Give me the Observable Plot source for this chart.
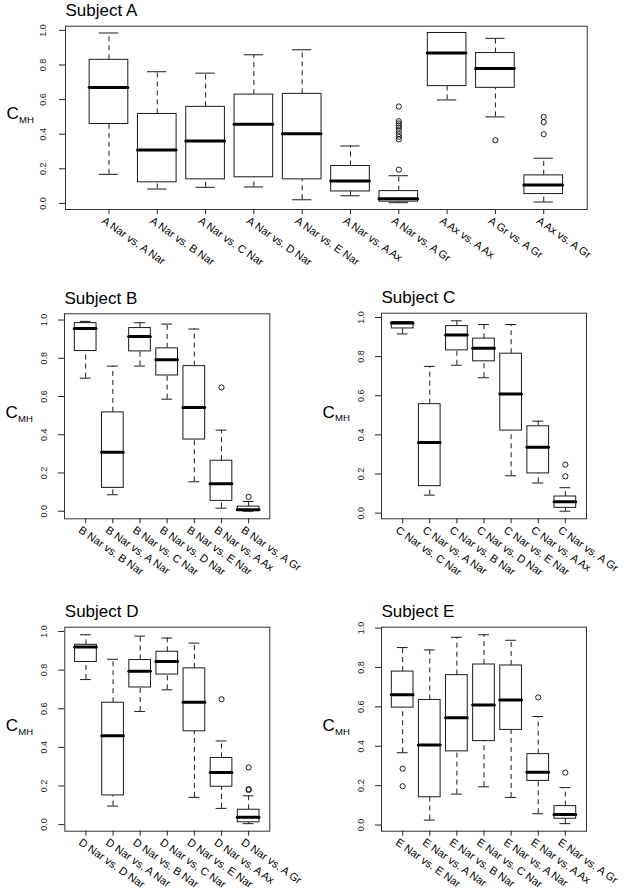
<!DOCTYPE html>
<html><head><meta charset="utf-8">
<script src="https://cdn.jsdelivr.net/npm/d3@7"></script>
<script src="https://cdn.jsdelivr.net/npm/@observablehq/plot@0.6"></script>
<style>
body{margin:0;background:#fff;}
#wrap{position:relative;width:627px;height:892px;overflow:hidden;background:#fff;}
#wrap svg{position:absolute;overflow:visible;}
</style></head><body><div id="wrap"></div>
<script>
const yTicks = [0, 0.2, 0.4, 0.6, 0.8, 1.0];

// five-number summaries per box: [lower whisker, Q1, median, Q3, upper whisker]
const labelsA = ["A Nar vs. A Nar","A Nar vs. B Nar","A Nar vs. C Nar","A Nar vs. D Nar","A Nar vs. E Nar","A Nar vs. A Ax","A Nar vs. A Gr","A Ax vs. A Ax","A Gr vs. A Gr","A Ax vs. A Gr"];
const statsA = [
  [0.168,0.459,0.670,0.830,0.985],
  [0.083,0.122,0.309,0.517,0.761],
  [0.093,0.139,0.361,0.558,0.753],
  [0.095,0.151,0.458,0.629,0.859],
  [0.021,0.139,0.403,0.633,0.888],
  [0.044,0.069,0.129,0.216,0.332],
  [0.004,0.010,0.027,0.071,0.160],
  [0.598,0.678,0.869,0.985,0.985],
  [0.500,0.668,0.780,0.869,0.954],
  [0.008,0.054,0.106,0.162,0.261]
];
const outliersA = [[7,0.56],[7,0.475],[7,0.462],[7,0.45],[7,0.437],[7,0.42],[7,0.40],[7,0.385],[7,0.37],[7,0.195],[9,0.365],[10,0.50],[10,0.47],[10,0.40]];

const labelsB = ["B Nar vs. B Nar","B Nar vs. A Nar","B Nar vs. C Nar","B Nar vs. D Nar","B Nar vs. E Nar","B Nar vs. A Ax","B Nar vs. A Gr"];
const statsB = [
  [0.696,0.838,0.956,0.984,0.993],
  [0.086,0.122,0.309,0.517,0.759],
  [0.759,0.836,0.914,0.958,0.986],
  [0.586,0.710,0.792,0.852,0.979],
  [0.154,0.375,0.543,0.759,0.953],
  [0.016,0.054,0.143,0.264,0.424],
  [0.000,0.002,0.007,0.024,0.051]
];
const outliersB = [[6,0.647],[7,0.075]];

const labelsC = ["C Nar vs. C Nar","C Nar vs. A Nar","C Nar vs. B Nar","C Nar vs. D Nar","C Nar vs. E Nar","C Nar vs. A Ax","C Nar vs. A Gr"];
const statsC = [
  [0.916,0.944,0.972,0.976,0.978],
  [0.092,0.138,0.361,0.557,0.750],
  [0.756,0.832,0.911,0.956,0.983],
  [0.692,0.776,0.843,0.892,0.964],
  [0.191,0.422,0.609,0.815,0.964],
  [0.154,0.203,0.337,0.444,0.470],
  [0.010,0.027,0.058,0.085,0.130]
];
const outliersC = [[7,0.248],[7,0.188]];

const labelsD = ["D Nar vs. D Nar","D Nar vs. A Nar","D Nar vs. B Nar","D Nar vs. C Nar","D Nar vs. E Nar","D Nar vs. A Ax","D Nar vs. A Gr"];
const statsD = [
  [0.751,0.842,0.919,0.931,0.983],
  [0.096,0.151,0.460,0.631,0.856],
  [0.586,0.710,0.794,0.852,0.976],
  [0.698,0.777,0.845,0.895,0.966],
  [0.141,0.483,0.634,0.809,0.940],
  [0.084,0.196,0.270,0.345,0.433],
  [0.005,0.012,0.038,0.077,0.149]
];
const outliersD = [[6,0.649],[7,0.296],[7,0.184],[7,0.179]];

const labelsE = ["E Nar vs. E Nar","E Nar vs. A Nar","E Nar vs. B Nar","E Nar vs. C Nar","E Nar vs. A Nar","E Nar vs. A Ax","E Nar vs. A Gr"];
const statsE = [
  [0.367,0.596,0.662,0.779,0.901],
  [0.025,0.141,0.406,0.635,0.889],
  [0.157,0.374,0.544,0.761,0.953],
  [0.194,0.426,0.609,0.815,0.966],
  [0.140,0.483,0.635,0.810,0.938],
  [0.057,0.224,0.268,0.360,0.551],
  [0.007,0.032,0.054,0.096,0.190]
];
const outliersE = [[1,0.286],[1,0.197],[6,0.648],[7,0.266]];

const FONT = "'Liberation Sans', Arial, Helvetica, sans-serif";
const LINE = "#1a1a1a";

function panel(o) {
  const {title, labels, stats, outliers, left, top, width, height, mL, mR, mT, mB, yDx} = o;
  const n = labels.length;
  const rows = stats.map((s, k) => ({i: k + 1, lo: s[0], q1: s[1], med: s[2], q3: s[3], hi: s[4]}));
  const outs = outliers.map(([i, v]) => ({i, v}));
  const all = stats.flat().concat(outliers.map(d => d[1]));
  const mn = d3.min(all), mx = d3.max(all), r = mx - mn;
  const svg = Plot.plot({
    width, height,
    marginLeft: mL, marginRight: mR, marginTop: mT, marginBottom: mB,
    x: {domain: [0.5 - 0.04 * n, n + 0.5 + 0.04 * n], axis: null, label: null},
    y: {domain: [mn - 0.04 * r, mx + 0.04 * r], axis: null, label: null},
    style: {fontFamily: FONT, background: "transparent", overflow: "visible", color: "#000"},
    marks: [
      Plot.ruleX(rows, {x: "i", y1: "q3", y2: "hi", stroke: LINE, strokeWidth: 1, strokeDasharray: "5,4"}),
      Plot.ruleX(rows, {x: "i", y1: "lo", y2: "q1", stroke: LINE, strokeWidth: 1, strokeDasharray: "5,4"}),
      Plot.ruleY(rows, {y: "hi", x1: d => d.i - 0.2, x2: d => d.i + 0.2, stroke: LINE, strokeWidth: 1}),
      Plot.ruleY(rows, {y: "lo", x1: d => d.i - 0.2, x2: d => d.i + 0.2, stroke: LINE, strokeWidth: 1}),
      Plot.rect(rows, {x1: d => d.i - 0.4, x2: d => d.i + 0.4, y1: "q1", y2: "q3", fill: "white", stroke: LINE, strokeWidth: 1}),
      Plot.ruleY(rows, {y: "med", x1: d => d.i - 0.4, x2: d => d.i + 0.4, stroke: "#000", strokeWidth: 3, strokeLinecap: "round"}),
      Plot.dot(outs, {x: "i", y: "v", r: 2.6, stroke: LINE, strokeWidth: 1, fill: "none"}),
      Plot.frame({stroke: "#333", strokeWidth: 1}),
      Plot.axisY({ticks: yTicks, tickSize: 6, tickFormat: () => "", label: null, stroke: "#222"}),
      Plot.axisX({ticks: d3.range(1, n + 1), tickSize: 5, tickFormat: () => "", label: null, stroke: "#222"}),
      Plot.text(yTicks, {y: d => d, frameAnchor: "left", dx: yDx, rotate: -90, textAnchor: "middle", lineAnchor: "bottom", text: d => d3.format(".1f")(d), fontSize: 9, fill: "#222"}),
      Plot.text(labels, {x: (d, k) => k + 1, frameAnchor: "bottom", dx: -6, dy: 10, rotate: 35, textAnchor: "start", lineAnchor: "middle", text: d => d, fontSize: 11, fill: "#000"}),
      Plot.text([title], {frameAnchor: "top-left", dx: 0, dy: -10, textAnchor: "start", lineAnchor: "bottom", text: d => d, fontSize: 17, fill: "#000"}),
      Plot.text(["C"], {frameAnchor: "left", dx: -59, dy: 1.6, textAnchor: "start", lineAnchor: "bottom", text: d => d, fontSize: 17, fill: "#000"}),
      Plot.text(["MH"], {frameAnchor: "left", dx: -46.5, dy: 5.3, textAnchor: "start", lineAnchor: "bottom", text: d => d, fontSize: 9.5, fill: "#000"})
    ]
  });
  svg.style.left = left + "px";
  svg.style.top = top + "px";
  document.getElementById("wrap").appendChild(svg);
}

panel({title: "Subject A", labels: labelsA, stats: statsA, outliers: outliersA,
  left: 0, top: 0, width: 627, height: 290, mL: 65, mR: 40.3, mT: 25.7, mB: 81, yDx: -19.5});
panel({title: "Subject B", labels: labelsB, stats: statsB, outliers: outliersB,
  left: 0, top: 290, width: 310, height: 300, mL: 64, mR: 40.7, mT: 23.3, mB: 71.7, yDx: -18});
panel({title: "Subject C", labels: labelsC, stats: statsC, outliers: outliersC,
  left: 310, top: 290, width: 317, height: 300, mL: 71, mR: 41, mT: 22.7, mB: 71.7, yDx: -18});
panel({title: "Subject D", labels: labelsD, stats: statsD, outliers: outliersD,
  left: 0, top: 590, width: 310, height: 302, mL: 64.3, mR: 40.7, mT: 36.7, mB: 61.3, yDx: -18});
panel({title: "Subject E", labels: labelsE, stats: statsE, outliers: outliersE,
  left: 310, top: 590, width: 317, height: 302, mL: 71, mR: 41, mT: 36.7, mB: 61.3, yDx: -18});
</script></body></html>
